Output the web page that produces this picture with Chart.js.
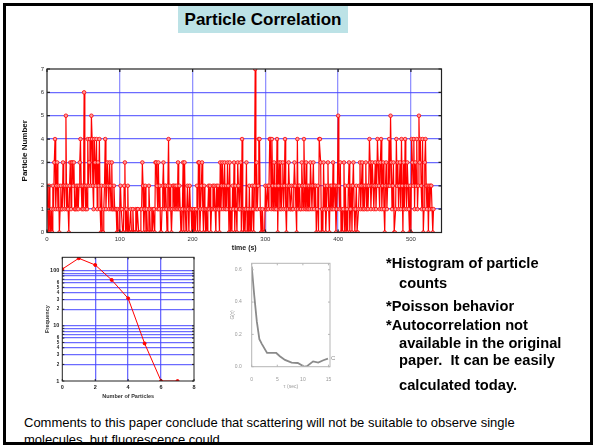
<!DOCTYPE html>
<html>
<head>
<meta charset="utf-8">
<script src="https://cdn.jsdelivr.net/npm/chart.js@4.4.1/dist/chart.umd.min.js"></script>
<style>
  body { margin:0; background:#fff; font-family:"Liberation Sans", Arial, sans-serif; }
  #page { position:relative; width:594px; height:446px; overflow:hidden; }
  .abs { position:absolute; }
  #frame { left:3px; top:3px; width:590px; height:442px; border:3px solid #000; box-sizing:border-box; z-index:5; }
  #title { left:178px; top:6px; width:170px; height:27px; background:#bce2e6; font-weight:bold; font-size:17px; line-height:27px; text-align:center; color:#000; }
  .note { font-weight:bold; font-size:14.7px; color:#000; white-space:nowrap; line-height:16px; }
  #comment { left:24px; top:414px; width:565px; height:28px; overflow:hidden; font-size:13px; line-height:17px; color:#000; }
</style>
</head>
<body>
<div id="page">
  <div id="frame" class="abs"></div>
  <div id="title" class="abs">Particle Correlation</div>

  <div class="abs" style="left:20px;top:60px;width:434px;height:200px;"><canvas id="chartTrace"></canvas></div>
  <div class="abs" style="left:20px;top:250px;width:200px;height:160px;"><canvas id="chartHist"></canvas></div>
  <div class="abs" style="left:230px;top:255px;width:110px;height:135px;filter:blur(0.4px);"><canvas id="chartAcf"></canvas></div>

  <div class="abs note" style="left:386px;top:255px;">*Histogram of particle</div>
  <div class="abs note" style="left:399px;top:275px;">counts</div>
  <div class="abs note" style="left:386px;top:298px;">*Poisson behavior</div>
  <div class="abs note" style="left:386px;top:317px;">*Autocorrelation not</div>
  <div class="abs note" style="left:399px;top:335px;">available in the original</div>
  <div class="abs note" style="left:399px;top:352px;">paper.&nbsp; It can be easily</div>
  <div class="abs note" style="left:399px;top:377px;">calculated today.</div>

  <div id="comment" class="abs">Comments to this paper conclude that scattering will not be suitable to observe single<br>molecules, but fluorescence could.</div>
</div>

<script>
// ── data ──
const timeCounts = [
  2,1,0,2,0,0,1,0,2,1,  3,4,1,2,3,1,2,0,1,2,  1,1,3,2,1,2,5,1,2,1,  0,2,3,1,3,3,2,3,1,1,
  2,1,2,1,2,3,4,2,1,2,  1,6,2,1,2,1,4,2,3,4,  2,5,4,2,1,4,3,2,4,1,  3,2,4,1,0,2,0,0,1,2,
  4,1,2,3,2,1,3,2,1,3,  1,1,2,1,1,1,0,1,0,0,  1,2,1,1,0,0,2,3,0,1,  0,2,0,0,0,1,0,0,1,0,
  0,0,1,0,1,1,0,0,0,1,  1,3,2,0,1,2,0,1,0,0,  2,1,0,0,1,0,1,1,0,3,  3,2,1,3,1,2,0,0,1,2,
  3,1,2,2,1,0,2,4,1,2,  1,0,1,2,2,1,2,1,2,1,  3,1,2,1,0,0,1,3,0,3,  1,0,1,2,1,0,2,1,1,0,
  1,0,1,0,0,1,2,0,3,3,  0,1,2,3,1,0,2,1,0,1,  0,1,2,1,2,0,1,1,2,1,  2,1,0,2,1,2,1,0,3,1,
  2,3,1,2,3,1,2,1,3,2,  0,3,0,1,0,2,1,3,0,2,  1,0,3,2,1,1,3,0,4,1,  0,1,0,1,3,0,1,0,2,0,
  1,0,2,1,0,2,7,1,3,1,  2,4,4,1,0,0,1,0,0,0,  2,1,1,2,1,2,4,4,1,4,  2,1,3,1,2,1,4,0,2,3,
  1,3,1,2,3,1,2,4,1,0,  2,1,3,2,1,1,2,1,1,2,  3,2,1,0,4,1,2,2,1,1,  3,2,1,4,2,1,3,1,2,1,
  2,1,3,2,1,2,3,1,2,2,  0,1,2,0,4,4,3,0,1,0,  3,1,2,0,1,2,3,1,0,2,  1,2,1,3,1,2,2,0,1,2,
  5,2,1,3,0,1,0,1,3,0,  2,0,1,0,2,3,0,1,2,0,  2,3,1,0,1,2,0,0,1,2,  3,1,2,3,1,2,1,2,3,1,
  2,1,2,4,3,1,2,3,2,1,  2,3,1,2,4,3,2,1,3,4,  1,2,3,1,0,2,3,1,2,2,  4,2,5,3,1,2,3,0,0,1,
  4,2,3,1,2,3,1,4,2,0,  3,1,4,2,1,3,2,1,0,2,  0,4,3,2,4,1,3,2,4,1,  2,5,3,4,2,1,4,0,1,3,
  4,2,1,2,0,2,1,2,2,1,  0,1
];
const timeTicks = [0, 100, 200, 300, 400, 500];
const countTicks = [0, 1, 2, 3, 4, 5, 6, 7];

const histBins = [0, 1, 2, 3, 4, 5, 6, 7];
const histFreq = [107, 168, 127, 68, 31.5, 4.8, 1, 1];
const histXTicks = [0, 2, 4, 6, 8];
const histYTicks = [1,2,3,4,5,6,7,8,9,10,20,30,40,50,60,70,80,90,100];

const acfTau = [0, 0.5, 1, 1.5, 2, 3, 4, 4.8, 5.5, 6.5, 7.8, 9, 10.3, 10.8, 12, 13, 14, 14.9];
const acfG   = [0.62, 0.44, 0.28, 0.17, 0.14, 0.085, 0.085, 0.085, 0.065, 0.042, 0.025, 0.023, 0.0, 0.003, 0.033, 0.025, 0.04, 0.05];
const acfXTicks = [0, 5, 10, 15];
const acfYTicks = [0, 0.2, 0.4, 0.6];

Chart.defaults.font.family = '"Liberation Sans", Arial, sans-serif';
Chart.defaults.animation = false;

// box round the plot area + inward tick marks (matlab look)
const framePlugin = {
  id: 'frame',
  afterDraw(chart, args, opts) {
    const { ctx, chartArea: a } = chart;
    ctx.save();
    ctx.strokeStyle = opts.color || '#000';
    ctx.lineWidth = opts.width || 1;
    ctx.strokeRect(a.left, a.top, a.right - a.left, a.bottom - a.top);
    const len = opts.tick || 0;
    if (len) {
      const sx = chart.scales.x, sy = chart.scales.y;
      ctx.beginPath();
      sx.ticks.forEach(t => {
        const px = sx.getPixelForValue(t.value);
        ctx.moveTo(px, a.top); ctx.lineTo(px, a.top + len);
        ctx.moveTo(px, a.bottom); ctx.lineTo(px, a.bottom - len);
      });
      sy.ticks.forEach(t => {
        const py = sy.getPixelForValue(t.value);
        ctx.moveTo(a.left, py); ctx.lineTo(a.left + len, py);
        ctx.moveTo(a.right, py); ctx.lineTo(a.right - len, py);
      });
      ctx.stroke();
    }
    ctx.restore();
  }
};

const setTicks = arr => s => { s.ticks = arr.map(v => ({ value: v })); };
const blue = 'rgba(70,70,255,0.8)';
const mantissa = v => Math.round(v / Math.pow(10, Math.floor(Math.log10(v) + 1e-9)));

// ── trace ──
new Chart(document.getElementById('chartTrace'), {
  type: 'line',
  data: {
    datasets: [{
      data: timeCounts.map((v, i) => ({ x: i, y: v })),
      borderColor: '#ff0000',
      borderWidth: 1.2,
      pointRadius: 1.8,
      pointBorderWidth: 0.8,
      pointBorderColor: '#ff0000',
      pointBackgroundColor: '#ff9a9a',
      tension: 0,
    }]
  },
  options: {
    responsive: true, maintainAspectRatio: false,
    layout: { padding: { top: 9, right: 12.5, left: 0, bottom: 0 } },
    plugins: { legend: { display: false }, tooltip: { enabled: false }, frame: { color: '#222', width: 1.2, tick: 3 } },
    scales: {
      x: {
        type: 'linear', min: 0, max: 542,
        afterBuildTicks: setTicks(timeTicks),
        afterFit: s => { s.height = 27.5; },
        border: { display: false },
        grid: { drawTicks: false, lineWidth: 1.3, color: c => (c.tick && c.tick.value > 0) ? 'rgba(110,110,255,0.75)' : 'rgba(0,0,0,0)' },
        ticks: { padding: 3, color: '#333', font: { size: 6 }, maxRotation: 0 },
        title: { display: true, text: 'time (s)', font: { size: 7, weight: 'bold' }, color: '#222', padding: { top: 1, bottom: 8 } }
      },
      y: {
        min: 0, max: 7,
        afterBuildTicks: setTicks(countTicks),
        afterFit: s => { s.width = 27; },
        border: { display: false },
        grid: { drawTicks: false, lineWidth: 1.3, color: c => (c.tick && c.tick.value > 0 && c.tick.value < 7) ? blue : 'rgba(0,0,0,0)' },
        ticks: { padding: 3, color: '#333', font: { size: 6 } },
        title: { display: true, text: 'Particle Number', font: { size: 8, weight: 'bold' }, color: '#111', padding: { top: 0, bottom: 2 } }
      }
    }
  },
  plugins: [framePlugin]
});

// ── histogram ──
new Chart(document.getElementById('chartHist'), {
  type: 'line',
  data: {
    datasets: [{
      data: histBins.map((b, i) => ({ x: b, y: histFreq[i] })),
      borderColor: '#ff0000',
      borderWidth: 1,
      pointRadius: 1.5,
      pointBackgroundColor: '#ff0000',
      pointBorderColor: '#ff0000',
      tension: 0,
    }]
  },
  options: {
    responsive: true, maintainAspectRatio: false,
    layout: { padding: { top: 7.3, right: 26, left: 0, bottom: 0 } },
    plugins: { legend: { display: false }, tooltip: { enabled: false }, frame: { color: '#222', width: 1, tick: 2 } },
    scales: {
      x: {
        type: 'linear', min: 0, max: 8,
        afterBuildTicks: setTicks(histXTicks),
        afterFit: s => { s.height = 29; },
        border: { display: false },
        grid: { drawTicks: false, lineWidth: 1.3, color: c => (c.tick && c.tick.value > 0 && c.tick.value < 8) ? blue : 'rgba(0,0,0,0)' },
        ticks: { padding: 3, color: '#222', font: { size: 5.5, weight: 'bold' }, maxRotation: 0 },
        title: { display: true, text: 'Number of Particles', font: { size: 5.5, weight: 'bold' }, color: '#333', padding: { top: 2, bottom: 10 } }
      },
      y: {
        type: 'logarithmic', min: 1, max: 175,
        afterBuildTicks: setTicks(histYTicks),
        afterFit: s => { s.width = 42.3; },
        border: { display: false },
        grid: { drawTicks: false, lineWidth: 1.2, color: c => (c.tick && c.tick.value > 1) ? blue : 'rgba(0,0,0,0)' },
        ticks: {
          padding: 3, color: '#222', autoSkip: false,
          font: c => ({ size: [1, 10, 100].includes(c.tick.value) ? 5.5 : 4.5, weight: 'bold' }),
          callback: v => [1, 10, 100].includes(v) ? String(v) : ([2,3,4,5,6].includes(mantissa(v)) ? String(mantissa(v)) : '')
        },
        title: { display: true, text: 'Frequency', font: { size: 5.5, weight: 'bold' }, color: '#333', padding: { top: 24, bottom: 2 } }
      }
    }
  },
  plugins: [framePlugin]
});

// ── autocorrelation (scanned look) ──
const endLabel = {
  id: 'endLabel',
  afterDatasetsDraw(chart) {
    const pts = chart.getDatasetMeta(0).data;
    const p = pts[pts.length - 1];
    const ctx = chart.ctx;
    ctx.save();
    ctx.fillStyle = '#888';
    ctx.font = '6px "Liberation Sans", Arial';
    ctx.textBaseline = 'middle';
    ctx.fillText('C', p.x + 3, p.y);
    ctx.restore();
  }
};
new Chart(document.getElementById('chartAcf'), {
  type: 'line',
  data: {
    datasets: [{
      data: acfTau.map((t, i) => ({ x: t, y: acfG[i] })),
      borderColor: '#8a8a8a',
      borderWidth: 1.8,
      pointRadius: 0,
      tension: 0,
    }]
  },
  options: {
    responsive: true, maintainAspectRatio: false,
    layout: { padding: { top: 8.3, right: 10, left: 0, bottom: 0 } },
    plugins: { legend: { display: false }, tooltip: { enabled: false }, frame: { color: '#b5b5b5', width: 1, tick: 2 } },
    scales: {
      x: {
        type: 'linear', min: 0, max: 15.3,
        afterBuildTicks: setTicks(acfXTicks),
        afterFit: s => { s.height = 23.3; },
        border: { display: false },
        grid: { display: false },
        ticks: { padding: 2, color: '#999', font: { size: 5 }, maxRotation: 0 },
        title: { display: true, text: 'τ (sec)', font: { size: 5 }, color: '#999', padding: { top: 2, bottom: 0 } }
      },
      y: {
        min: 0, max: 0.64,
        afterBuildTicks: setTicks(acfYTicks),
        afterFit: s => { s.width = 21.7; },
        border: { display: false },
        grid: { display: false },
        ticks: { padding: 2, color: '#999', font: { size: 5 }, callback: v => v.toFixed(1) },
        title: { display: true, text: 'G(τ)', font: { size: 5 }, color: '#999', padding: { top: 0, bottom: 3 } }
      }
    }
  },
  plugins: [framePlugin, endLabel]
});
</script>
</body>
</html>
